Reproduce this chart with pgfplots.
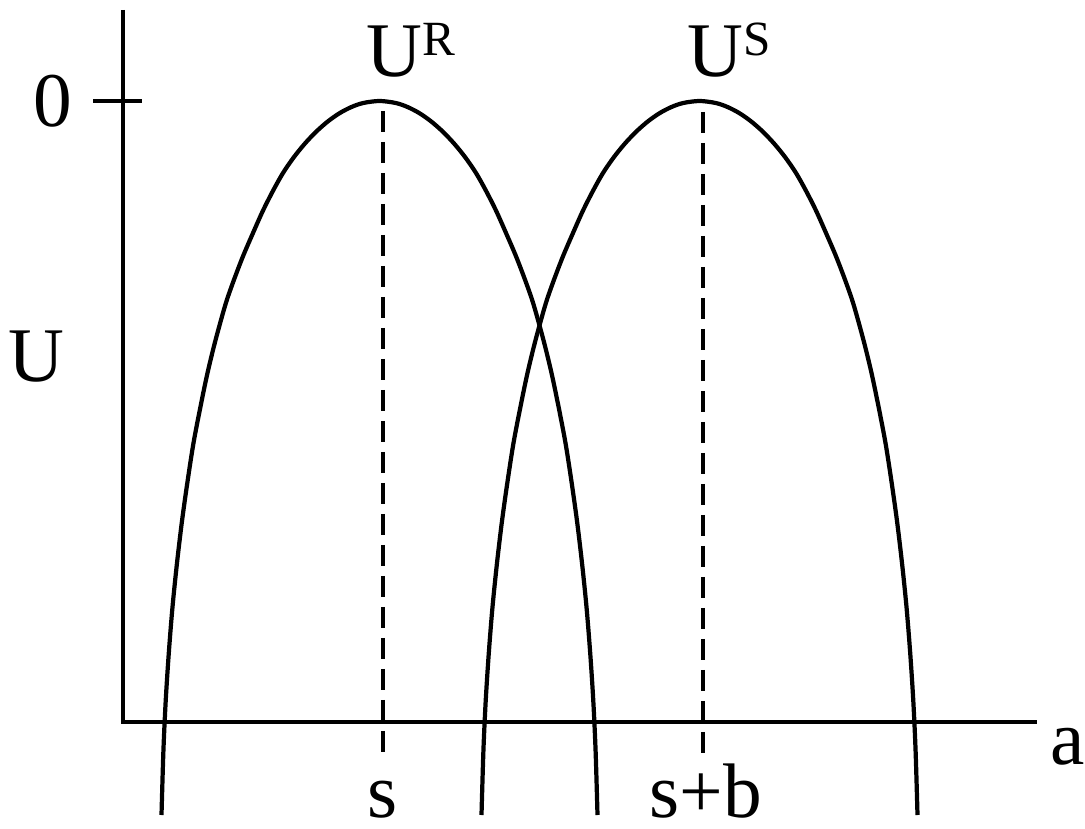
\documentclass[border=0pt]{standalone}
\usepackage{fontspec}
\setmainfont{Liberation Serif}
\usepackage{pgfplots}
\pgfplotsset{compat=1.18}
\begin{document}
\begin{tikzpicture}
\begin{axis}[
  scale only axis, width=10.85cm, height=8.28cm,
  xmin=0, xmax=1085, ymin=0, ymax=828,
  hide axis, clip=false, no markers,
  every axis plot/.append style={line width=1.2pt, black},
  font=\fontsize{22}{26}\selectfont,
]
% axes
\addplot[black, line join=miter] coordinates {(123,818) (123,106) (1037,106)};
\addplot[black] coordinates {(93,727) (142,727)};
% U^R curve
\addplot[black, smooth] coordinates {
 (161.5,13) (163.4,77) (165.7,127) (168.8,175) (172.5,221) (177.0,265) (182.0,307)
 (187.6,347) (193.5,385) (200.4,421) (207.5,455) (215.3,487) (225.3,523) (232.8,545)
 (242.7,571) (253.0,595) (262.8,617) (272.9,637) (283.0,655) (294.0,671) (305.4,685)
 (316.9,697) (328.4,707) (339.9,715) (351.5,721) (363.3,725) (379.5,727)
 (395.7,725) (407.5,721) (419.1,715) (430.6,707) (442.1,697) (453.6,685) (465.0,671)
 (476.0,655) (486.1,637) (496.2,617) (506.0,595) (516.3,571) (526.2,545) (533.7,523)
 (543.7,487) (551.5,455) (558.6,421) (565.5,385) (571.4,347) (577.0,307) (582.0,265)
 (586.5,221) (590.2,175) (593.3,127) (595.6,77) (597.5,13)};
% U^S curve
\addplot[black, smooth] coordinates {
 (481.5,13) (483.4,77) (485.7,127) (488.8,175) (492.5,221) (497.0,265) (502.0,307)
 (507.6,347) (513.5,385) (520.4,421) (527.5,455) (535.3,487) (545.3,523) (552.8,545)
 (562.7,571) (573.0,595) (582.8,617) (592.9,637) (603.0,655) (614.0,671) (625.4,685)
 (636.9,697) (648.4,707) (659.9,715) (671.5,721) (683.3,725) (699.5,727)
 (715.7,725) (727.5,721) (739.1,715) (750.6,707) (762.1,697) (773.6,685) (785.0,671)
 (796.0,655) (806.1,637) (816.2,617) (826.0,595) (836.3,571) (846.2,545) (853.7,523)
 (863.7,487) (871.5,455) (878.6,421) (885.5,385) (891.4,347) (897.0,307) (902.0,265)
 (906.5,221) (910.2,175) (913.3,127) (915.6,77) (917.5,13)};
% dashed lines
\addplot[black, dash pattern=on 2.1mm off 1.0mm] coordinates {(383,717) (383,71)};
\addplot[black, dash pattern=on 2.1mm off 1.0mm] coordinates {(703,716) (703,71)};
% labels
\node[inner sep=0, anchor=center] at (axis cs:53,727) {0};
\node[inner sep=0, anchor=center] at (axis cs:36,471) {U};
\node[inner sep=0, anchor=base west] at (axis cs:366,751) {U\raisebox{2.1mm}{\fontsize{14}{14}\selectfont R}};
\node[inner sep=0, anchor=base west] at (axis cs:687,751) {U\raisebox{2.1mm}{\fontsize{14}{14}\selectfont S}};
\node[inner sep=0, anchor=base] at (axis cs:383,11) {s};
\node[inner sep=0, anchor=base] at (axis cs:706,11) {s+b};
\node[inner sep=0, anchor=base west] at (axis cs:1050,63) {a};
\end{axis}
\pgfresetboundingbox
\useasboundingbox (current axis.south west) rectangle (current axis.north east);
\end{tikzpicture}
\end{document}
